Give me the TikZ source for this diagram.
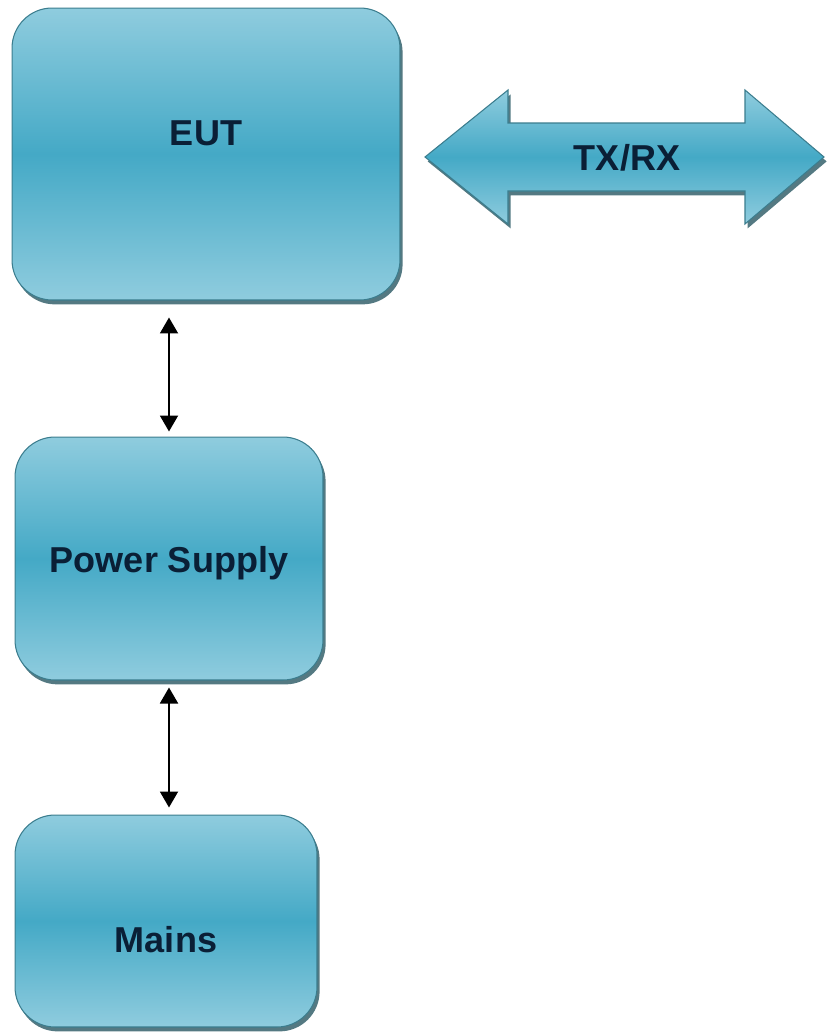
\documentclass[tikz,border=0pt]{standalone}
\usepackage{fontspec}
\setmainfont{Liberation Sans}
\usetikzlibrary{arrows.meta,shadows}

\definecolor{boxlight}{HTML}{8FCCDE}
\definecolor{boxdark}{HTML}{44A9C6}
\definecolor{boxedge}{HTML}{3B7D8E}
\definecolor{labelnavy}{HTML}{0A1F36}

\tikzset{
  unit/.style={rectangle, rounded corners=0.8cm, inner sep=0pt, draw=boxedge, line width=0.6pt,
    top color=boxlight, bottom color=boxlight, middle color=boxdark,
    drop shadow={shadow xshift=1.5pt, shadow yshift=-2.5pt, fill=boxedge!70!black, opacity=0.8}},
  unittext/.style={font=\fontsize{20.5}{24}\selectfont\bfseries, text=labelnavy},
  txrxarrow/.style={draw=boxedge, line width=0.6pt, line join=miter,
    top color=boxlight, bottom color=boxlight, middle color=boxdark,
    drop shadow={shadow xshift=1.5pt, shadow yshift=-2.5pt, fill=boxedge!70!black, opacity=0.8}},
  link/.style={{Triangle[length=0.32cm,width=0.36cm]}-{Triangle[length=0.32cm,width=0.36cm]}, line width=1.1pt, black}
}

\begin{document}
\begin{tikzpicture}[x=0.02cm, y=-0.02cm] % 1単位 = 1px
  \useasboundingbox (0,0) rectangle (827,1034); % 画像の大きさ

  % ブロック
  \node[unit, minimum width=7.76cm, minimum height=5.84cm,
    label={[unittext, yshift=0.42cm]center:EUT}] (eut) at (206,154) {};
  \node[unit, minimum width=6.16cm, minimum height=4.86cm,
    label={[unittext, yshift=-0.09cm]center:Power Supply}] (psu) at (169,558.5) {};
  \node[unit, minimum width=6.04cm, minimum height=4.24cm,
    label={[unittext, yshift=-0.38cm]center:Mains}] (mains) at (166,921) {};

  % 送受信の両矢印
  \path[txrxarrow] (425,157) -- (508,90) -- (508,123) -- (745,123) -- (745,90) -- (824,157)
    -- (745,224) -- (745,191) -- (508,191) -- (508,224) -- cycle;
  \node[unittext] (txrx) at (627,158) {TX/RX};

  % 接続
  \draw[link, shorten <=0.34cm, shorten >=0.1cm] (psu.north |- eut.south) -- (psu.north);
  \draw[link, shorten <=0.14cm, shorten >=0.14cm] (psu.south) -- (psu.south |- mains.north);
\end{tikzpicture}
\end{document}
